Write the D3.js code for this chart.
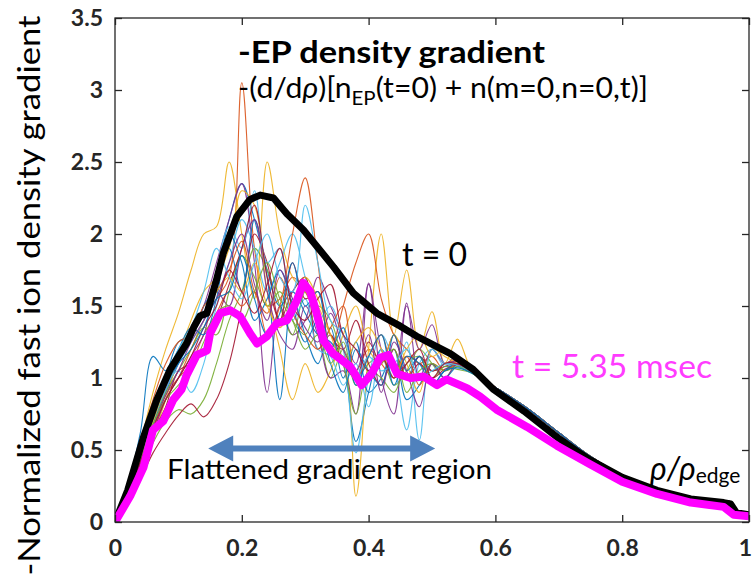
<!DOCTYPE html>
<html>
<head>
<meta charset="utf-8">
<script src="https://cdn.jsdelivr.net/npm/d3@7"></script>
<style>
body { margin: 0; background: #fff; }
text { font-family: Lato, "Open Sans", sans-serif; }
</style>
</head>
<body>
<svg id="chart" width="753" height="574"></svg>
<script>
// rho grid of the noisy (flattened) part and of the common tail
const rhoNoisy = [0, 0.02, 0.04, 0.06, 0.08, 0.10, 0.12, 0.14, 0.16, 0.18, 0.20, 0.22, 0.24, 0.26, 0.28,
                  0.30, 0.32, 0.34, 0.36, 0.38, 0.40, 0.42, 0.44, 0.46, 0.48, 0.50, 0.52, 0.54, 0.56, 0.58];
const rhoTail = [0.60, 0.65, 0.70, 0.75, 0.80, 0.85, 0.90, 0.95, 0.97, 0.98, 1.0];
const thinTail = [0.935, 0.79, 0.62, 0.455, 0.325, 0.24, 0.18, 0.15, 0.14, 0.07, 0.05];

// time slices n(m=0,n=0,t), one array per slice (values on rhoNoisy)
const thinSeries = [
    [0,0.2,0.42,0.68,0.9,1.1,1.28,1.45,1.7,2.1,2.35,2.1,1.75,1.5,1.6,1.45,1.3,1.25,1.1,0.56,0.9,1.2,1.05,1.0,1.15,1.05,1.1,1.1,1.05,0.99],
    [0,0.18,0.4,0.62,0.85,1.0,1.2,1.4,1.55,1.7,3.05,1.9,1.5,1.55,1.7,1.6,1.4,1.2,1.15,1.05,1.2,1.1,1.0,1.15,1.1,1.05,1.1,1.12,1.07,1.0],
    [0,0.24,0.55,0.9,1.2,1.45,1.75,2.0,2.05,2.5,2.0,1.55,2.5,2.0,1.7,1.6,1.5,1.3,1.2,0.18,1.2,2.0,1.3,1.75,1.2,1.46,1.1,1.27,1.08,1.0],
    [0,0.2,0.45,0.7,0.92,1.1,1.3,1.5,1.8,2.1,2.35,1.8,0.9,1.5,1.3,1.4,1.7,1.5,1.3,1.1,1.65,1.2,1.0,1.5,1.2,1.37,1.1,1.15,1.06,0.99],
    [0,0.15,0.35,0.55,0.7,0.78,0.75,0.85,1.1,1.4,1.6,1.9,1.75,1.5,1.3,1.6,1.35,1.0,1.2,1.0,1.1,1.15,0.95,1.05,1.2,1.1,1.0,1.1,1.05,0.99],
    [0,0.2,0.45,0.72,0.95,1.05,0.9,1.1,1.5,1.8,2.1,1.9,1.6,1.8,2.0,1.7,1.4,1.5,1.2,0.48,1.0,1.3,1.1,0.64,1.1,1.2,1.08,1.1,1.06,0.99],
    [0,0.15,0.3,0.48,0.62,0.74,0.82,0.73,0.85,1.1,1.5,2.0,1.8,1.4,1.6,1.7,1.2,1.3,1.1,1.0,1.25,1.1,1.3,1.0,1.15,1.05,1.08,1.1,1.05,0.99],
    [0,0.22,0.48,0.75,1.0,1.25,1.3,1.5,1.65,1.9,1.6,2.1,1.7,0.85,1.55,1.3,1.1,1.35,1.0,1.25,0.9,1.0,1.2,0.85,0.95,1.1,1.0,1.08,1.05,0.99],
    [0,0.2,0.42,0.65,0.88,1.0,1.1,1.3,1.45,1.6,1.5,1.6,1.3,1.5,2.0,2.39,1.8,1.2,1.5,1.8,2.0,1.55,1.3,1.2,1.1,1.15,1.05,1.12,1.06,1.0],
    [0,0.18,0.4,0.6,0.85,1.15,1.4,1.6,1.7,1.9,2.3,2.2,1.6,1.2,0.85,1.1,0.9,1.05,1.3,1.5,1.2,1.1,1.3,1.1,0.9,1.2,1.15,1.1,1.05,0.99],
    [0,0.2,0.4,0.62,0.85,1.0,1.15,1.3,1.6,1.5,1.9,2.1,1.6,1.3,1.2,1.5,1.3,1.0,1.05,0.75,1.66,1.0,0.75,1.52,1.0,1.2,1.1,1.12,1.05,0.99],
    [0,0.2,0.45,0.7,0.9,1.05,1.2,1.35,1.3,1.6,1.85,1.7,1.5,1.6,1.4,1.3,1.5,1.4,1.1,0.75,1.05,1.0,0.9,1.1,1.15,1.0,1.08,1.06,1.04,0.99],
    [0,0.2,0.43,0.7,0.92,1.1,1.25,1.4,1.75,2.05,1.9,2.3,1.8,1.9,1.4,1.55,1.2,1.15,0.95,1.1,0.8,1.2,1.0,1.25,0.57,1.2,1.1,1.08,1.04,0.99],
    [0,0.18,0.4,0.62,0.8,1.05,1.1,1.2,1.4,1.65,1.9,2.2,1.7,1.4,1.8,1.55,1.6,1.3,1.2,1.4,1.1,0.95,1.2,1.0,1.1,1.0,1.06,1.09,1.05,0.99],
    [0,0.25,0.62,1.15,1.05,1.2,1.35,1.3,1.55,2.0,1.8,1.4,1.55,1.75,1.5,1.25,1.4,1.1,0.9,1.2,1.05,0.95,1.3,1.05,1.15,0.95,1.05,1.1,1.05,0.99],
    [0,0.25,0.55,0.85,1.1,1.25,1.3,1.5,1.6,1.75,1.95,1.6,1.45,1.7,1.45,1.3,1.2,1.35,1.5,1.0,1.15,1.3,1.05,1.15,0.95,1.1,1.05,1.1,1.06,1.0],
    [0,0.2,0.45,0.7,0.95,1.15,1.3,1.45,1.6,1.7,1.6,1.8,1.5,1.35,1.5,1.7,1.55,1.3,1.1,1.25,1.35,1.2,1.0,1.2,1.3,1.15,1.2,1.12,1.06,0.99],
    [0,0.19,0.42,0.66,0.88,1.05,1.25,1.4,1.55,1.8,2.0,1.65,1.4,1.75,1.55,1.35,1.25,1.45,1.2,1.05,1.3,0.9,1.25,1.05,0.8,1.1,1.0,1.1,1.05,0.99],
    [0,0.2,0.44,0.68,0.85,0.95,1.05,1.25,1.45,1.5,1.4,1.6,1.8,1.55,1.4,1.2,1.3,1.1,1.25,0.95,1.0,1.1,1.2,0.9,1.05,1.1,1.05,1.08,1.04,0.99],
    [0,0.22,0.5,0.78,1.0,1.2,1.35,1.6,1.9,1.7,1.55,1.8,2.0,1.7,1.6,2.2,1.8,1.4,1.3,1.0,1.15,1.05,1.1,1.2,1.0,1.05,1.1,1.09,1.05,0.99],
    [0,0.2,0.42,0.65,0.85,1.0,1.15,1.35,1.5,1.75,1.6,1.45,1.65,1.9,1.5,1.4,1.55,1.65,1.3,1.2,1.05,1.15,1.0,1.1,1.2,1.0,1.1,1.1,1.05,0.99],
    [0,0.21,0.46,0.72,0.95,1.1,1.2,1.35,1.55,1.6,1.85,1.55,1.3,1.45,1.8,1.5,1.6,1.2,1.35,0.95,1.15,1.3,0.95,1.15,1.1,0.95,1.05,1.07,1.04,0.99]
];
const matlabColors = ["#0072BD", "#D95319", "#EDB120", "#7E2F8E", "#77AC30", "#4DBEEE", "#A2142F"];

// t = 0 profile
const rhoT0 = [0, 0.02, 0.045, 0.066, 0.087, 0.113, 0.125, 0.134, 0.145, 0.16, 0.171, 0.192, 0.213, 0.229, 0.25, 0.271,
               0.297, 0.345, 0.376, 0.413, 0.45, 0.476, 0.502, 0.529, 0.565, 0.597, 0.645, 0.697, 0.729, 0.75,
               0.8, 0.855, 0.908, 0.96, 0.971, 0.98, 1.0];
const gradT0 = [0, 0.22, 0.59, 0.85, 1.06, 1.24, 1.36, 1.43, 1.45, 1.68, 1.87, 2.12, 2.24, 2.27, 2.25, 2.14,
                2.03, 1.77, 1.59, 1.45, 1.36, 1.29, 1.23, 1.17, 1.06, 0.92, 0.77, 0.59, 0.49, 0.43,
                0.31, 0.22, 0.16, 0.135, 0.125, 0.065, 0.05];

// t = 5.35 msec profile
const rhoT535 = [0, 0.024, 0.045, 0.06, 0.076, 0.092, 0.105, 0.113, 0.129, 0.145, 0.15, 0.166, 0.182, 0.197, 0.213,
                 0.224, 0.24, 0.255, 0.271, 0.287, 0.297, 0.308, 0.318, 0.329, 0.344, 0.371, 0.389, 0.405, 0.418,
                 0.431, 0.445, 0.466, 0.487, 0.508, 0.523, 0.555, 0.576, 0.602, 0.65, 0.697, 0.75, 0.8, 0.855,
                 0.908, 0.96, 0.976, 1.0];
const gradT535 = [0, 0.18, 0.38, 0.64, 0.70, 0.85, 0.92, 1.02, 1.16, 1.19, 1.31, 1.45, 1.47, 1.43, 1.31,
                  1.24, 1.29, 1.38, 1.40, 1.54, 1.66, 1.60, 1.45, 1.26, 1.17, 1.08, 0.95, 1.03, 1.14,
                  1.16, 1.03, 1.00, 1.01, 0.95, 0.99, 0.93, 0.87, 0.78, 0.66, 0.53, 0.40, 0.28, 0.195,
                  0.135, 0.105, 0.05, 0.04];

const xTicks = [0, 0.2, 0.4, 0.6, 0.8, 1];
const yTicks = [0, 0.5, 1, 1.5, 2, 2.5, 3, 3.5];

const svg = d3.select("#chart");
const padL = 115, padR = 749, padT = 18, padB = 522;

const x = d3.scaleLinear().domain([0, 1]).range([padL, padR]);
const y = d3.scaleLinear().domain([0, 3.5]).range([padB, padT]);

svg.append("rect").attr("width", 753).attr("height", 574).attr("fill", "#fff");

svg.append("defs").append("clipPath").attr("id", "plotClip")
    .append("rect").attr("x", padL).attr("y", padT).attr("width", padR - padL).attr("height", padB - padT);

const plot = svg.append("g").attr("clip-path", "url(#plotClip)");

const thinLine = d3.line()
    .x(d => x(d[0]))
    .y(d => y(d[1]))
    .curve(d3.curveCatmullRom.alpha(0.5));

thinSeries.forEach((s, i) => {
    const pts = rhoNoisy.map((r, k) => [r, s[k]]).concat(rhoTail.map((r, k) => [r, thinTail[k]]));
    plot.append("path")
        .attr("d", thinLine(pts))
        .attr("fill", "none")
        .attr("stroke", matlabColors[i % matlabColors.length])
        .attr("stroke-width", 1.1)
        .attr("stroke-opacity", 0.9);
});

const thickLine = d3.line().x(d => x(d[0])).y(d => y(d[1]));

plot.append("path")
    .attr("d", thickLine(rhoT0.map((r, k) => [r, gradT0[k]])))
    .attr("fill", "none")
    .attr("stroke", "#000")
    .attr("stroke-width", 7)
    .attr("stroke-linejoin", "round");

plot.append("path")
    .attr("d", thickLine(rhoT535.map((r, k) => [r, gradT535[k]])))
    .attr("fill", "none")
    .attr("stroke", "#FF00FF")
    .attr("stroke-width", 8)
    .attr("stroke-linejoin", "round");

// axes, MATLAB style box with inward ticks
const tickFmt = d => String(d);
const axisFont = g => g.selectAll("text")
    .attr("font-family", "DejaVu Sans")
    .attr("font-weight", "bold")
    .attr("font-size", 23)
    .attr("fill", "#262626");

const styleAxis = g => {
    g.select(".domain").remove();
    g.selectAll("line").attr("stroke", "#262626").attr("stroke-width", 1.3);
};

svg.append("g").attr("transform", `translate(0,${padB})`)
    .call(d3.axisBottom(x).tickValues(xTicks).tickFormat(tickFmt).tickSizeInner(-7).tickSizeOuter(0).tickPadding(18))
    .call(styleAxis).call(axisFont)
    .selectAll("text").filter(d => d === 1).attr("dx", -4);
svg.append("g").attr("transform", `translate(0,${padT})`)
    .call(d3.axisTop(x).tickValues(xTicks).tickFormat("").tickSizeInner(-7).tickSizeOuter(0))
    .call(styleAxis);
svg.append("g").attr("transform", `translate(${padL},0)`)
    .call(d3.axisLeft(y).tickValues(yTicks).tickFormat(tickFmt).tickSizeInner(-7).tickSizeOuter(0).tickPadding(12))
    .call(styleAxis).call(axisFont);
svg.append("g").attr("transform", `translate(${padR},0)`)
    .call(d3.axisRight(y).tickValues(yTicks).tickFormat("").tickSizeInner(-7).tickSizeOuter(0))
    .call(styleAxis);

svg.append("rect")
    .attr("x", padL).attr("y", padT).attr("width", padR - padL).attr("height", padB - padT)
    .attr("fill", "none").attr("stroke", "#262626").attr("stroke-width", 1.3);

// y axis label
svg.append("text")
    .attr("transform", `translate(40,${(574 + 17) / 2}) rotate(-90)`)
    .attr("text-anchor", "middle")
    .attr("font-size", 30)
    .attr("textLength", 560)
    .attr("lengthAdjust", "spacingAndGlyphs")
    .text("-Normalized fast ion density gradient");

// title block
svg.append("text")
    .attr("x", 238).attr("y", 63)
    .attr("font-size", 31).attr("font-weight", "bold")
    .attr("textLength", 307).attr("lengthAdjust", "spacingAndGlyphs")
    .text("-EP density gradient");

const sub = svg.append("text").attr("x", 238).attr("y", 98).attr("font-size", 28)
    .attr("textLength", 410).attr("lengthAdjust", "spacingAndGlyphs");
sub.append("tspan").text("-(d/d");
sub.append("tspan").attr("font-style", "italic").text("ρ");
sub.append("tspan").text(")[n");
sub.append("tspan").attr("font-size", 19).attr("dy", 7).text("EP");
sub.append("tspan").attr("dy", -7).text("(t=0) + n(m=0,n=0,t)]");

svg.append("text")
    .attr("x", 402).attr("y", 266)
    .attr("font-size", 32).attr("fill", "#000")
    .text("t = 0");

svg.append("text")
    .attr("x", 512).attr("y", 378)
    .attr("font-size", 32).attr("fill", "#FF3CFF")
    .attr("textLength", 200).attr("lengthAdjust", "spacingAndGlyphs")
    .text("t = 5.35 msec");

// flattened region arrow
const arrowFrom = 0.147, arrowTo = 0.505, arrowLevel = 0.51;
const ay = y(arrowLevel), ax0 = x(arrowFrom), ax1 = x(arrowTo);
const headL = 25, headH = 13, shaft = 3;
svg.append("path")
    .attr("d", `M${ax0},${ay} L${ax0 + headL},${ay - headH} L${ax0 + headL},${ay - shaft} L${ax1 - headL},${ay - shaft}
                L${ax1 - headL},${ay - headH} L${ax1},${ay} L${ax1 - headL},${ay + headH} L${ax1 - headL},${ay + shaft}
                L${ax0 + headL},${ay + shaft} L${ax0 + headL},${ay + headH} Z`)
    .attr("fill", "#4F81BD");

svg.append("text")
    .attr("x", 167).attr("y", 479)
    .attr("font-size", 27)
    .attr("textLength", 325).attr("lengthAdjust", "spacingAndGlyphs")
    .text("Flattened gradient region");

const rhoLab = svg.append("text").attr("x", 650).attr("y", 480).attr("font-size", 32);
rhoLab.append("tspan").attr("font-style", "italic").text("ρ/ρ");
rhoLab.append("tspan").attr("font-size", 21).attr("dy", 3).text("edge");
</script>
</body>
</html>
